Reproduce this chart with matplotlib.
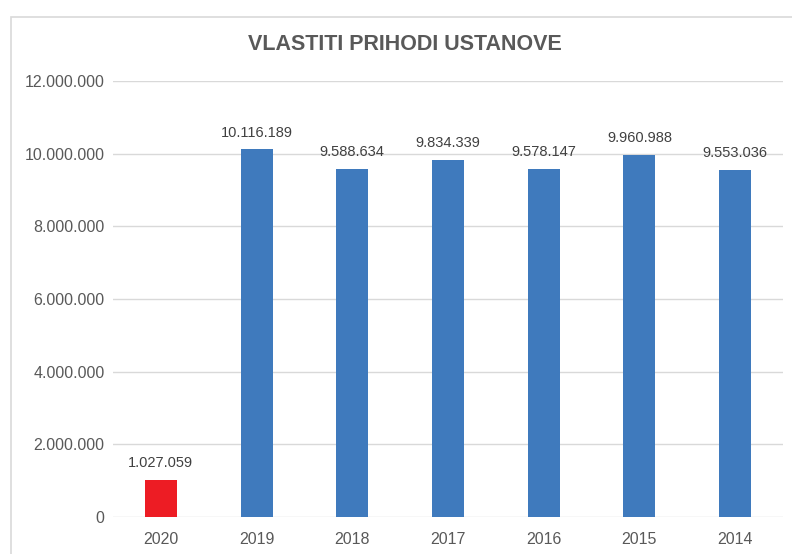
import matplotlib
matplotlib.use("Agg")
import matplotlib.pyplot as plt
from matplotlib.patches import Rectangle
from matplotlib.ticker import FuncFormatter

categories = ["2020", "2019", "2018", "2017", "2016", "2015", "2014"]
values = [1027059, 10116189, 9588634, 9834339, 9578147, 9960988, 9553036]
colors = ["#ED1C24", "#3F7ABD", "#3F7ABD", "#3F7ABD", "#3F7ABD", "#3F7ABD", "#3F7ABD"]
title = "VLASTITI PRIHODI USTANOVE"

def fmt(v):
    return f"{int(v):,}".replace(",", ".")

plt.rcParams['font.family'] = ['Liberation Sans', 'DejaVu Sans']

fig = plt.figure(figsize=(7.92, 5.54), dpi=100)
W, H = 792, 554
ax = fig.add_axes([113 / W, 1 - 517 / H, (783 - 113) / W, (517 - 81) / H])

x = range(len(categories))
ax.bar(x, values, width=0.335, color=colors, zorder=3)
for xi, v in zip(x, values):
    ax.text(xi, v + 270000, fmt(v), ha="center", va="bottom", fontsize=10.5, color="#404040", zorder=4)

ax.set_xlim(-0.5, len(categories) - 0.5)
ax.set_ylim(0, 12000000)
ax.set_yticks(range(0, 12000001, 2000000))
ax.yaxis.set_major_formatter(FuncFormatter(lambda v, p: fmt(v)))
ax.set_xticks(list(x))
ax.set_xticklabels(categories)
ax.grid(axis="y", color="#D9D9D9", linewidth=1, zorder=0)
for s in ax.spines.values():
    s.set_visible(False)
ax.tick_params(axis="both", length=0, labelsize=11.5, colors="#595959")
ax.tick_params(axis="y", pad=6)
ax.tick_params(axis="x", pad=11)

fig.text(405 / W, 1 - 45 / H, title, ha="center", va="center",
         fontsize=15.5, fontweight="bold", color="#595959")

fig.patches.append(Rectangle((11 / W, -0.1), 1.2, 1 - 17 / H + 0.1, transform=fig.transFigure,
                             fill=False, edgecolor="#D9D9D9", linewidth=1.2))

fig.savefig("out.png", dpi=100, facecolor="white")
